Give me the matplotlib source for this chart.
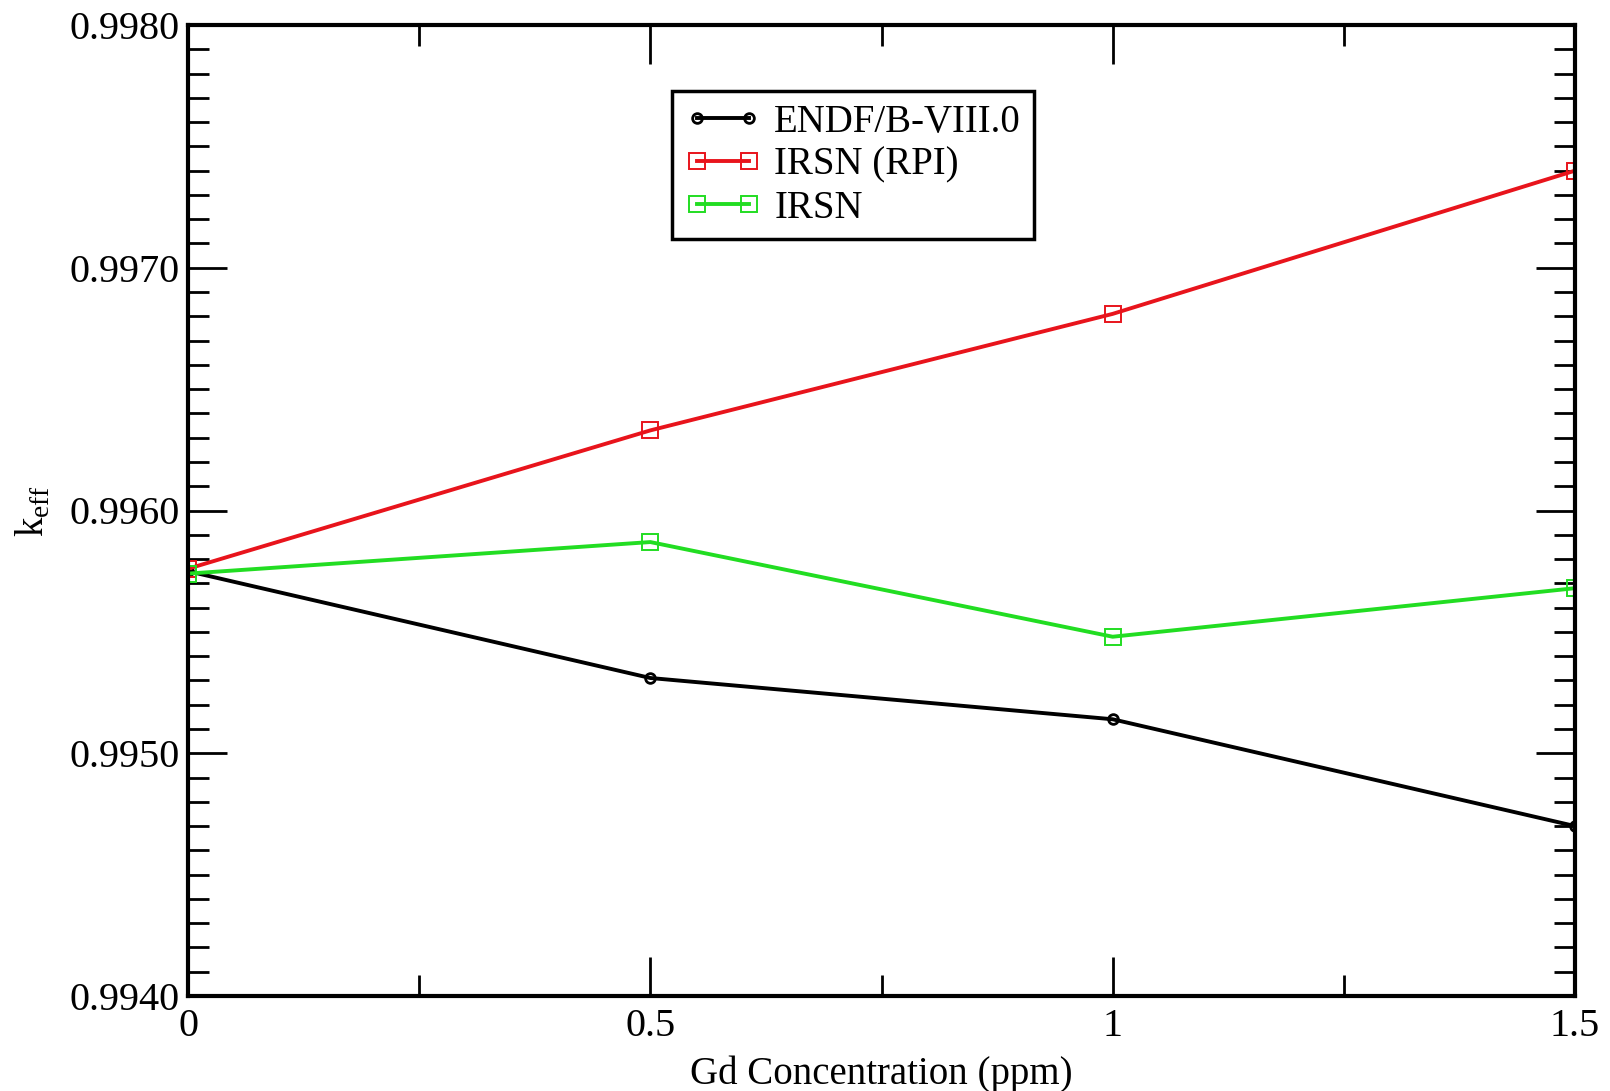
import numpy as np
import matplotlib
matplotlib.use("Agg")
import matplotlib.pyplot as plt
from matplotlib.ticker import MultipleLocator, FixedFormatter, FixedLocator

matplotlib.rcParams['font.family'] = ['Liberation Serif', 'DejaVu Serif']
matplotlib.rcParams['mathtext.fontset'] = 'custom'
matplotlib.rcParams['mathtext.rm'] = 'Liberation Serif'

# Gd concentration (ppm)
gd = [0.0, 0.5, 1.0, 1.5]

# keff for each library
keff_endf = [0.99575, 0.99531, 0.99514, 0.99470]
keff_irsn_rpi = [0.99576, 0.99633, 0.99681, 0.99740]
keff_irsn = [0.99574, 0.99587, 0.99548, 0.99568]

xtick_labels = ["0", "0.5", "1", "1.5"]
ytick_labels = ["0.9940", "0.9950", "0.9960", "0.9970", "0.9980"]

W, H = 1610, 1091
fig = plt.figure(figsize=(W / 100, H / 100), dpi=100)
ax = fig.add_axes([188 / W, 1 - 996 / H, (1575 - 188) / W, (996 - 25) / H])

ax.plot(gd, keff_endf, color='black', lw=2.8, marker='o', ms=7, mfc='none',
        mew=2, label='ENDF/B-VIII.0')
ax.plot(gd, keff_irsn_rpi, color='#e8141c', lw=2.8, marker='s', ms=11,
        mfc='none', mew=1.4, label='IRSN (RPI)')
ax.plot(gd, keff_irsn, color='#22dd22', lw=2.8, marker='s', ms=11,
        mfc='none', mew=1.4, label='IRSN')

ax.set_xlim(0, 1.5)
ax.set_ylim(0.9940, 0.9980)
ax.xaxis.set_major_locator(FixedLocator(gd))
ax.xaxis.set_major_formatter(FixedFormatter(xtick_labels))
ax.xaxis.set_minor_locator(MultipleLocator(0.25))
ax.yaxis.set_major_locator(FixedLocator([0.9940, 0.9950, 0.9960, 0.9970, 0.9980]))
ax.yaxis.set_major_formatter(FixedFormatter(ytick_labels))
ax.yaxis.set_minor_locator(MultipleLocator(0.0001))

ax.tick_params(which='both', direction='in', top=True, right=True,
               labelsize=29, width=2, pad=9)
ax.tick_params(axis='y', which='both', pad=6)
ax.tick_params(which='major', length=28)
ax.tick_params(which='minor', length=15)
for s in ax.spines.values():
    s.set_linewidth(3)

ax.set_xlabel('Gd Concentration (ppm)', fontsize=28, labelpad=7)
ax.set_ylabel(r'k$_{\mathrm{eff}}$', fontsize=28, labelpad=12)

leg = ax.legend(loc='upper left', bbox_to_anchor=(672 / W, 1 - 91 / H),
                bbox_transform=fig.transFigure, fontsize=28, frameon=True,
                fancybox=False, edgecolor='black', handlelength=1.95,
                numpoints=2, framealpha=1, borderaxespad=0,
                handletextpad=0.35, borderpad=0.33, labelspacing=0.15)
leg.get_frame().set_linewidth(2.5)

fig.savefig('out.png', dpi=100)
